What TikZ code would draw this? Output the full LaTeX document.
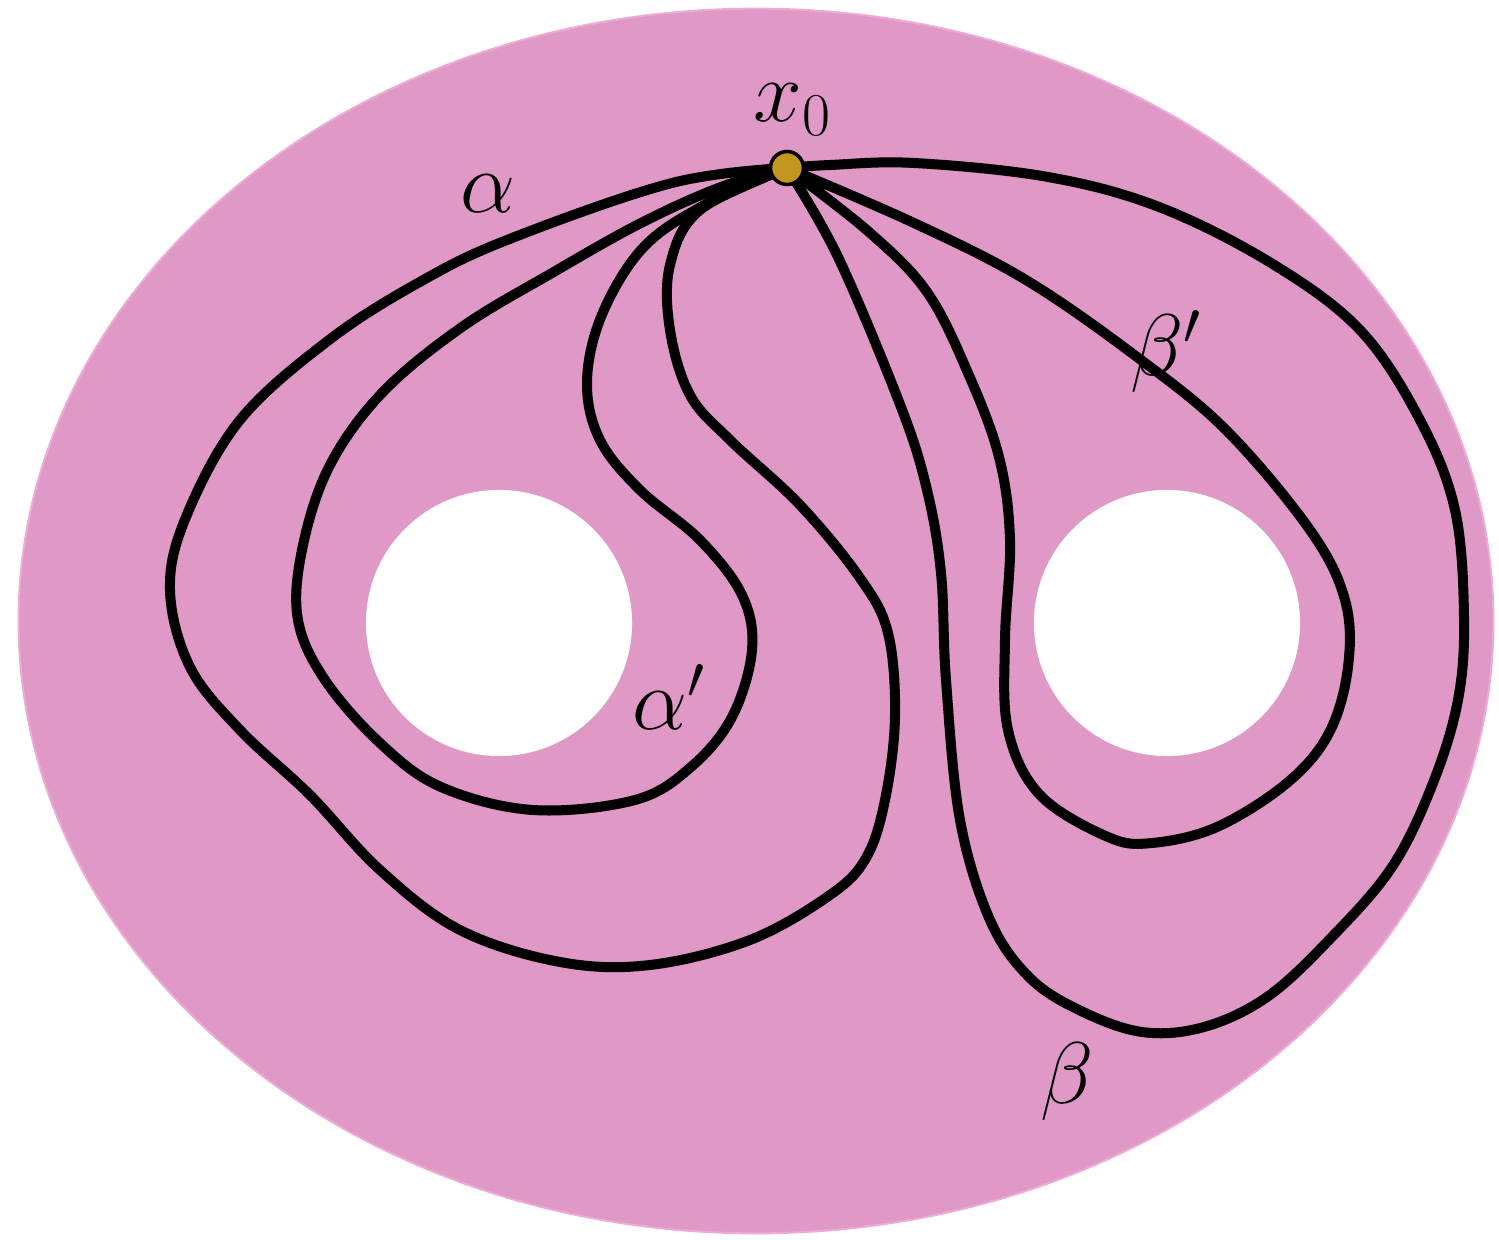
\documentclass[tikz,border=0pt]{standalone}
\definecolor{surf}{RGB}{224,152,198}
\definecolor{surfedge}{RGB}{236,172,214}
\definecolor{gold}{RGB}{196,150,30}
\tikzset{
  loopline/.style={line width=0.1cm, black, line join=round, line cap=round},
  lbl/.style={font=\fontsize{27}{32}\selectfont, inner sep=0pt, anchor=base},
  hole/.style={fill=white},
  base/.style={circle, fill=gold, draw=black, line width=1pt, minimum size=0.33cm, inner sep=0pt}
}
\begin{document}
\begin{tikzpicture}[x=0.01cm, y=-0.01cm]
\useasboundingbox (0,0) rectangle (1499,1240);
% surface
\fill[surf, draw=surfedge, line width=0.02cm] (756,621) ellipse [x radius=7.37cm, y radius=6.12cm];
\fill[hole] (499,623) circle [radius=1.33cm];
\fill[hole] (1167,623) circle [radius=1.33cm];
% base point coordinate
\coordinate (B) at (787,168);
% alpha (outer left loop)
\draw[loopline] plot[smooth, tension=0.6] coordinates {
 (787,168) (672,183) (507,240) (418,283) (329,340) (240,420) (186,517) (170,590)
 (190,667) (240,730) (310,795) (380,870) (460,930) (560,962) (650,965) (750,940)
 (830,895) (866,858) (885,800) (895,717) (888,633) (860,578) (800,505) (730,440)
 (690,395) (670,330) (670,265) (700,210) (787,168)};
% alpha' (inner left loop)
\draw[loopline] plot[smooth, tension=0.6] coordinates {
 (787,168) (721,187) (641,223) (552,273) (462,327) (382,393) (329,467) (302,550)
 (298,620) (325,680) (380,743) (441,787) (533,810) (635,800) (691,767) (732,717)
 (752,650) (742,595) (700,540) (640,490) (600,440) (587,383) (601,317) (641,250)
 (699,208) (787,168)};
% beta (outer right loop)
\draw[loopline] plot[smooth, tension=0.6] coordinates {
 (787,168) (838,257) (901,407) (927,490) (941,573) (946,680) (960,820) (990,920)
 (1029,977) (1079,1010) (1142,1032) (1204,1027) (1267,997) (1329,940) (1392,867)
 (1433,783) (1458,700) (1464,617) (1455,510) (1420,420) (1360,330) (1271,263)
 (1159,207) (1048,177) (914,163) (830,165) (787,168)};
% beta' (inner right loop)
\draw[loopline] plot[smooth, tension=0.6] coordinates {
 (787,168) (869,232) (927,292) (968,373) (999,457) (1010,540) (1005,640) (1008,730)
 (1040,795) (1108,837) (1152,843) (1217,827) (1287,783) (1329,733) (1348,667)
 (1345,600) (1310,530) (1226,430) (1137,357) (1026,280) (914,223) (787,168)};
% base point
\node[base] (x0dot) at (B) {};
% labels
\node[lbl] (lx0) at (793,122) {$x_0$};
\node[lbl] (la) at (488,213) {$\alpha$};
\node[lbl] (lap) at (669,730) {$\alpha'$};
\node[lbl] (lbp) at (1166,376) {$\beta'$};
\node[lbl] (lb) at (1067,1104) {$\beta$};
\end{tikzpicture}
\end{document}
